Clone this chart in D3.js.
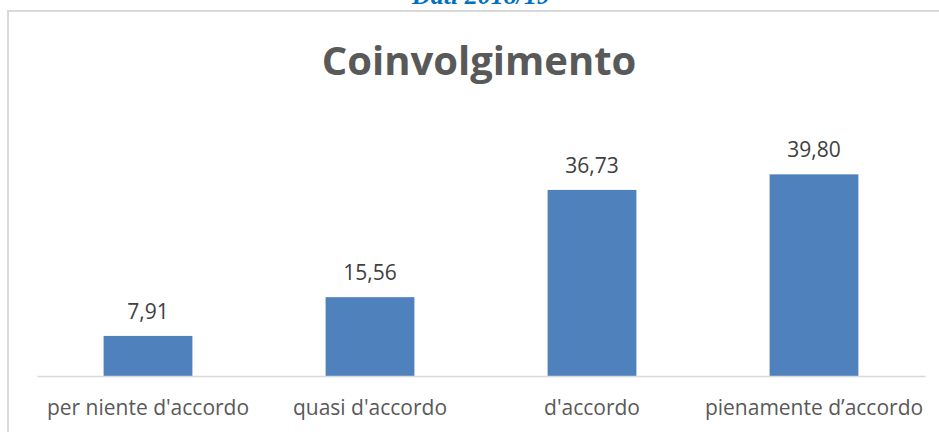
<!DOCTYPE html>
<html>
<head>
<meta charset="utf-8">
<script src="https://cdn.jsdelivr.net/npm/d3@7"></script>
<style>
  html, body { margin: 0; padding: 0; background: #fff; overflow: hidden; }
  svg { display: block; }
</style>
</head>
<body>
<div id="container"></div>
<script>
const categories = ["per niente d'accordo", "quasi d'accordo", "d'accordo", "pienamente d\u2019accordo"];
const values = [7.91, 15.56, 36.73, 39.80];
const labels = ['7,91', '15,56', '36,73', '39,80'];
const title = 'Coinvolgimento';
const subtitle = 'Dati 2018/19';

const W = 939, H = 432;

const svg = d3.select('div#container').append('svg')
	.attr('width', W)
	.attr('height', H);

// cornice del grafico (continua oltre il bordo)
svg.append('rect')
	.attr('x', 8)
	.attr('y', 11)
	.attr('width', 1000)
	.attr('height', 600)
	.attr('fill', '#fff')
	.attr('stroke', '#d9d9d9')
	.attr('stroke-width', 2);

// sottotitolo tagliato in alto
svg.append('text')
	.attr('x', 481)
	.attr('y', 4)
	.attr('text-anchor', 'middle')
	.style('font-family', '"Liberation Serif", serif')
	.style('font-weight', 'bold')
	.style('font-style', 'italic')
	.style('font-size', '26px')
	.style('fill', '#0070c0')
	.text(subtitle);

svg.append('text')
	.attr('x', 479)
	.attr('y', 75)
	.attr('text-anchor', 'middle')
	.style('font-family', '"Open Sans", sans-serif')
	.style('font-weight', 'bold')
	.style('font-size', '40px')
	.style('fill', '#595959')
	.text(title);

const x = d3.scaleBand()
	.domain(categories)
	.range([37, 925])
	.paddingInner(0.6)
	.paddingOuter(0.3);

const y = d3.scaleLinear()
	.domain([0, 45])
	.range([376, 148]);

const data = categories.map((c, i) => ({ cat: c, value: values[i], label: labels[i] }));

svg.selectAll('rect.bar')
	.data(data)
	.enter()
	.append('rect')
	.attr('class', 'bar')
	.attr('x', d => x(d.cat))
	.attr('y', d => y(d.value))
	.attr('width', x.bandwidth())
	.attr('height', d => y(0) - y(d.value))
	.attr('fill', '#4f81bd');

// asse x
const axis = svg.append('g')
	.attr('transform', `translate(0, ${y(0)})`)
	.call(d3.axisBottom(x).tickSize(0).tickPadding(0));

axis.select('.domain')
	.attr('stroke', '#d9d9d9')
	.attr('stroke-width', 1.5);

axis.selectAll('.tick text')
	.attr('y', 39)
	.attr('dy', 0)
	.style('font-family', '"Open Sans", sans-serif')
	.style('font-size', '21px')
	.style('fill', '#595959');

// etichette valori
svg.selectAll('text.val')
	.data(data)
	.enter()
	.append('text')
	.attr('class', 'val')
	.attr('x', d => x(d.cat) + x.bandwidth() / 2)
	.attr('y', d => y(d.value) - 17)
	.attr('text-anchor', 'middle')
	.style('font-family', '"Open Sans", sans-serif')
	.style('font-size', '21px')
	.style('fill', '#404040')
	.text(d => d.label);
</script>
</body>
</html>
